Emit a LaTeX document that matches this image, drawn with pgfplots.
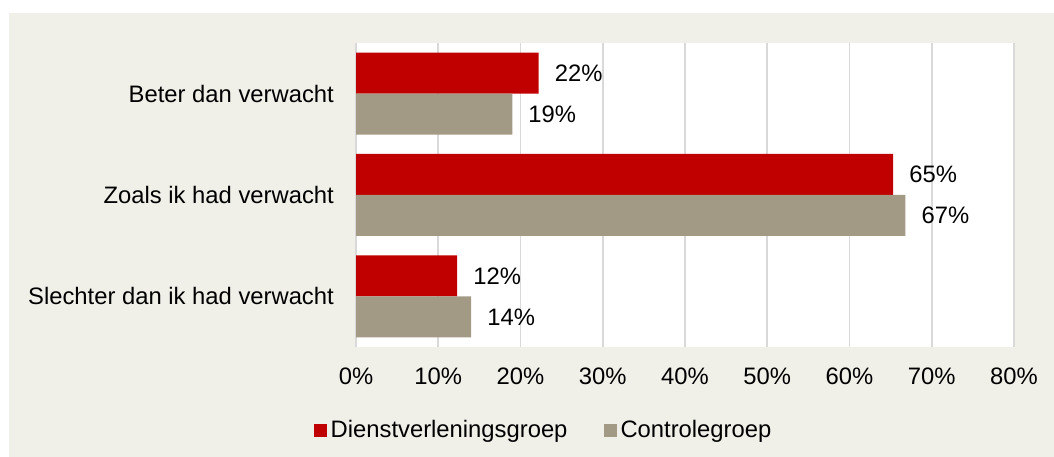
\documentclass[border=0pt]{standalone}
\usepackage{pgfplots}
\pgfplotsset{compat=1.18}
\usepackage{fontspec}
\setmainfont{Liberation Sans}
\definecolor{dvred}{HTML}{C00000}
\definecolor{ctgray}{HTML}{A39A86}
\definecolor{bgbeige}{HTML}{F0EFE8}
\definecolor{gridgray}{HTML}{D9D9D9}
\newcommand{\chartfont}{\fontsize{23.8}{28}\selectfont}

\begin{document}
\begin{tikzpicture}
\useasboundingbox (0,0) rectangle (1054pt,457pt);
\fill[white] (0,0) rectangle (1054pt,457pt);
\fill[bgbeige] (9pt,0) rectangle (1054pt,444pt);
\begin{axis}[
  at={(356pt,110pt)}, anchor=south west,
  scale only axis, width=658pt, height=304pt,
  xbar, bar width=41pt,
  xmin=0, xmax=80, ymin=-0.5, ymax=2.5,
  xtick={0,10,...,80},
  xticklabels={0\%,10\%,20\%,30\%,40\%,50\%,60\%,70\%,80\%},
  ytick={0,1,2},
  yticklabels={Slechter dan ik had verwacht, Zoals ik had verwacht, Beter dan verwacht},
  xmajorgrids, grid style={gridgray, line width=1.7pt},
  axis line style={draw=none}, major tick length=0pt,
  axis background/.style={fill=white},
  tick label style={font=\chartfont, text=black},
  xticklabel style={anchor=north, inner sep=0pt, yshift=-21pt},
  yticklabel style={anchor=east, inner sep=0pt, xshift=-22pt},
  point meta=explicit symbolic,
  nodes near coords,
  every node near coord/.append style={font=\chartfont, text=black, anchor=west, inner sep=0pt, xshift=16pt},
  legend columns=2,
  legend style={font=\chartfont, draw=none, fill=none, at={(0.285,-0.273)}, anchor=center,
    /tikz/every even column/.append style={column sep=34pt}},
  legend image code/.code={\fill[#1] (0pt,-7pt) rectangle (13pt,6pt); \path (15pt,0pt);},
]
\addplot[fill=dvred, draw=none, bar shift=20.5pt] coordinates {
  (22.2,2) [22\%]
  (65.3,1) [65\%]
  (12.3,0) [12\%]
};
\addplot[fill=ctgray, draw=none, bar shift=-20.5pt] coordinates {
  (19,2) [19\%]
  (66.8,1) [67\%]
  (14,0) [14\%]
};
\legend{Dienstverleningsgroep, Controlegroep}
\end{axis}
\end{tikzpicture}
\end{document}
